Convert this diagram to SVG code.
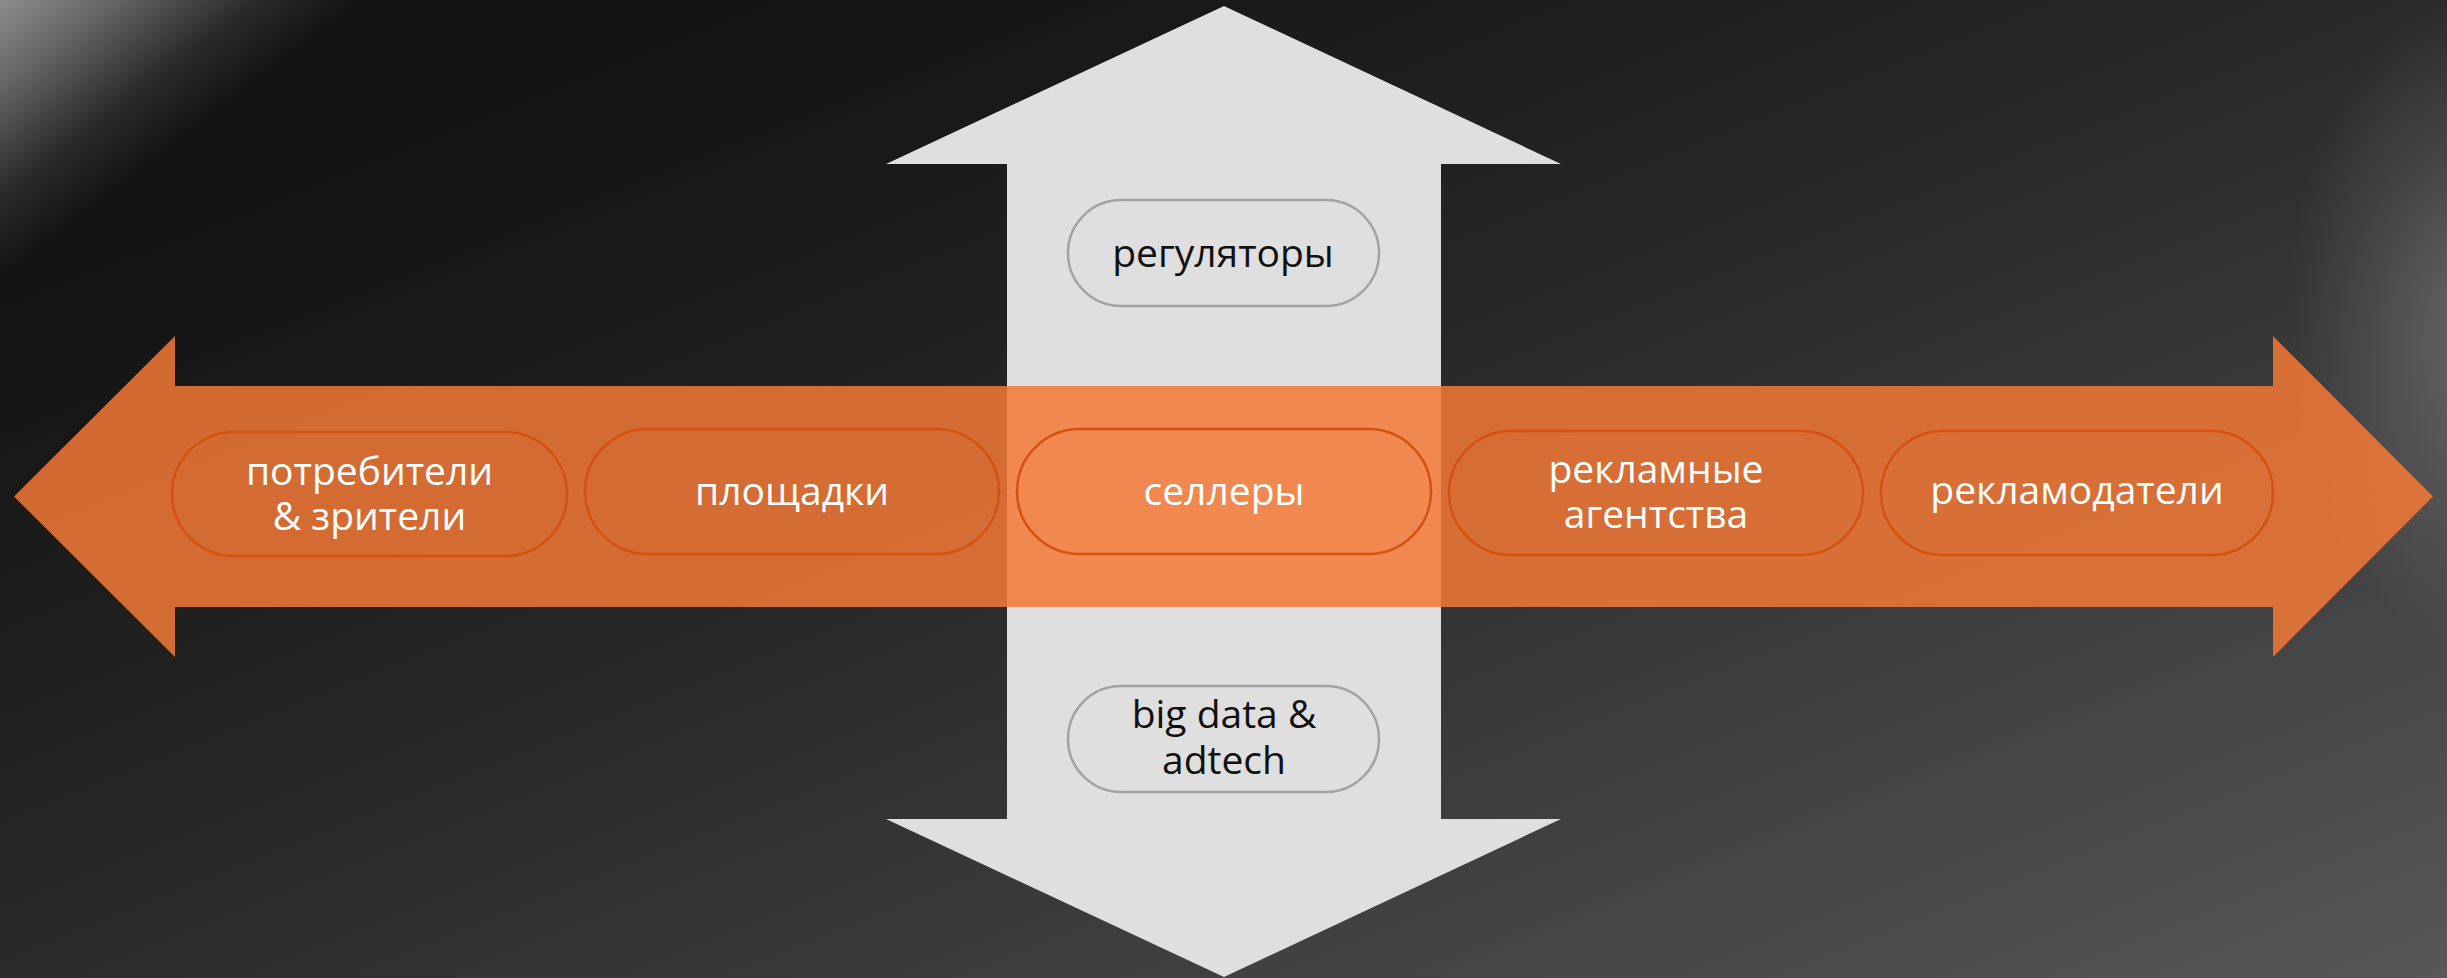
<svg xmlns="http://www.w3.org/2000/svg" width="2447" height="978" viewBox="0 0 2447 978">
<defs>
<linearGradient id="bg" x1="0" y1="0" x2="1" y2="1">
<stop offset="0" stop-color="#111111"/>
<stop offset="0.2" stop-color="#151515"/>
<stop offset="0.5" stop-color="#2a2a2a"/>
<stop offset="1" stop-color="#575757"/>
</linearGradient>
<linearGradient id="glowTL" x1="0" y1="0" x2="135" y2="178" gradientUnits="userSpaceOnUse">
<stop offset="0" stop-color="#ffffff" stop-opacity="0.52"/>
<stop offset="0.3" stop-color="#ffffff" stop-opacity="0.36"/>
<stop offset="0.7" stop-color="#ffffff" stop-opacity="0.1"/>
<stop offset="1" stop-color="#ffffff" stop-opacity="0"/>
</linearGradient>
<radialGradient id="glowR" cx="2470" cy="320" r="330" gradientUnits="userSpaceOnUse" gradientTransform="translate(2470 320) scale(0.55 1) translate(-2470 -320)">
<stop offset="0" stop-color="#ffffff" stop-opacity="0.22"/>
<stop offset="0.5" stop-color="#ffffff" stop-opacity="0.1"/>
<stop offset="1" stop-color="#ffffff" stop-opacity="0"/>
</radialGradient>
<style>
.pill-o{fill:none;stroke:#d4520e;stroke-width:2.5}
.pill-g{fill:none;stroke:#a3a3a3;stroke-width:2.5}
.t{font-family:"Open Sans","Liberation Sans",sans-serif;font-size:39px;text-anchor:middle}
.tw{fill:#ffffff}
.tb{fill:#111111}
</style>
</defs>
<rect width="2447" height="978" fill="url(#bg)"/>
<rect width="400" height="300" fill="url(#glowTL)"/>
<rect width="2447" height="978" fill="url(#glowR)"/>
<g id="connectors">
<polygon id="vertical-arrow" fill="#dfdfdf" points="1224,6 1561,164 1441,164 1441,819 1561,819 1224,977 886,819 1007,819 1007,164 886,164"/>
<polygon id="horizontal-arrow" fill="#f37936" fill-opacity="0.85" points="14,496.5 175,336 175,386 2273,386 2273,336 2433,496.5 2273,657 2273,607 175,607 175,657"/>
</g>
<g id="node-consumers">
<rect class="pill-o" x="172" y="432" width="395" height="124" rx="62"/>
<text class="t tw" x="369.5" y="485">потребители</text>
<text class="t tw" x="369.5" y="530">&amp; зрители</text>
</g>
<g id="node-platforms">
<rect class="pill-o" x="585" y="429" width="414" height="125" rx="62.5"/>
<text class="t tw" x="792" y="505">площадки</text>
</g>
<g id="node-sellers">
<rect class="pill-o" x="1017" y="429" width="414" height="125" rx="62.5"/>
<text class="t tw" x="1224" y="505">селлеры</text>
</g>
<g id="node-agencies">
<rect class="pill-o" x="1449" y="431" width="414" height="124" rx="62"/>
<text class="t tw" x="1656" y="483">рекламные</text>
<text class="t tw" x="1656" y="528">агентства</text>
</g>
<g id="node-advertisers">
<rect class="pill-o" x="1881" y="431" width="392" height="124" rx="62"/>
<text class="t tw" x="2077" y="504">рекламодатели</text>
</g>
<g id="node-regulators">
<rect class="pill-g" x="1068" y="200" width="311" height="106" rx="53"/>
<text class="t tb" x="1223" y="267">регуляторы</text>
</g>
<g id="node-bigdata">
<rect class="pill-g" x="1068" y="686" width="311" height="106" rx="53"/>
<text class="t tb" x="1224" y="728">big data &amp;</text>
<text class="t tb" x="1224" y="774">adtech</text>
</g>
</svg>
